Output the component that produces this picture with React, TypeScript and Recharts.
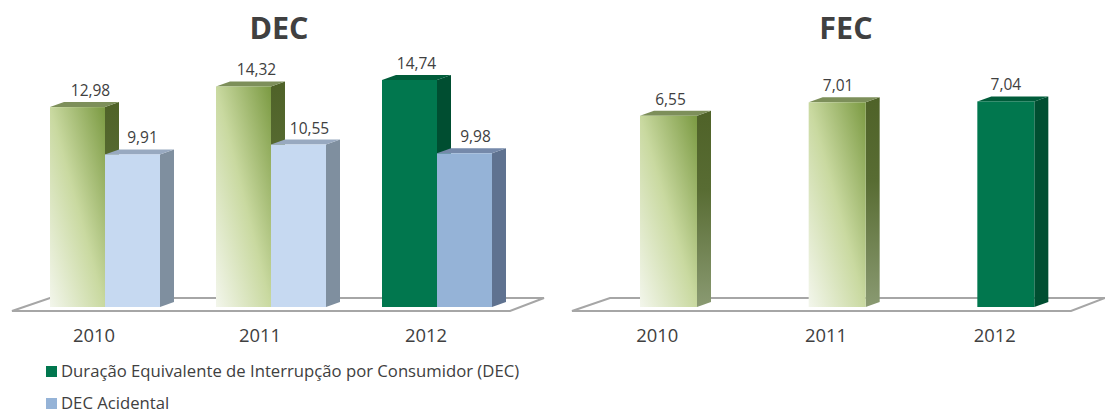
import * as React from "react"
import { BarChart, Bar, XAxis, YAxis, LabelList } from "recharts"

const YEARS = ["2010", "2011", "2012"]
const DEC_VALUES = [12.98, 14.32, 14.74]
const DEC_ACIDENTAL = [9.91, 10.55, 9.98]
const FEC_VALUES = [6.55, 7.01, 7.04]
const LEGEND_NAMES = ["Duração Equivalente de Interrupção por Consumidor (DEC)", "DEC Acidental"]

const FONT = "'Open Sans', sans-serif"
const TEXT = "#404040"
const DEPTH_X = 14
const DEPTH_Y = 5

const decData = YEARS.map((year, i) => ({ year, dec: DEC_VALUES[i], acidental: DEC_ACIDENTAL[i] }))
const fecData = YEARS.map((year, i) => ({ year, fec: FEC_VALUES[i] }))

// faces of the 3d columns, the last year is highlighted
const GREEN = { front: "url(#greenFront)", side: "url(#greenSide)", top: "#7d8f5a" }
const DARK_GREEN = { front: "#01774e", side: "#004e31", top: "#005c3a" }
const LIGHT_BLUE = { front: "#c6d9f1", side: "#7f8f9f", top: "#98a9c0" }
const BLUE = { front: "#95b3d7", side: "#5f7290", top: "#7589aa" }

const column = (faces: any[]) => (props: any) => {
    const { x, y, width, height, index } = props
    const c = faces[index]
    const right = x + width
    const bottom = y + height
    return (
        <g>
            <polygon points={`${right},${y} ${right + DEPTH_X},${y - DEPTH_Y} ${right + DEPTH_X},${bottom - DEPTH_Y} ${right},${bottom}`} fill={c.side} />
            <polygon points={`${x},${y} ${x + DEPTH_X},${y - DEPTH_Y} ${right + DEPTH_X},${y - DEPTH_Y} ${right},${y}`} fill={c.top} />
            <rect x={x} y={y} width={width} height={height} fill={c.front} />
        </g>
    )
}

// the labels are not quite centred over the columns in the original
const valueLabel = (shifts: number[]) => (props: any) => {
    const { x, y, width, value, index } = props
    return (
        <text x={x + width / 2 + shifts[index]} y={y - 11} textAnchor="middle" fontFamily={FONT} fontSize={15.5} fill={TEXT}>
            {Number(value).toFixed(2).replace(".", ",")}
        </text>
    )
}

const YearTick = (props: any) => {
    const { x, payload } = props
    return (
        <text x={x - 11} y={342} textAnchor="middle" fontFamily={FONT} fontSize={18.4} fill={TEXT}>
            {payload.value}
        </text>
    )
}

const Floor = ({ x1, x2 }: { x1: number; x2: number }) => (
    <polygon
        points={`${x1},311 ${x2 - 34},311 ${x2},298 ${x1 + 38},298`}
        fill="#fff"
        stroke="#a6a6a6"
        strokeWidth={2}
    />
)

const Title = ({ x, children }: { x: number; children: string }) => (
    <text x={x} y={39} textAnchor="middle" fontFamily={FONT} fontWeight="bold" fontSize={30.5} fill={TEXT}>
        {children}
    </text>
)

const Gradients = () => (
    <defs>
        <linearGradient id="greenFront" x1="0" y1="1" x2="1" y2="0">
            <stop offset="0%" stopColor="#f3f6ec" />
            <stop offset="50%" stopColor="#c9d9a0" />
            <stop offset="100%" stopColor="#7b9a42" />
        </linearGradient>
        <linearGradient id="greenSide" x1="0" y1="0" x2="0" y2="1">
            <stop offset="0%" stopColor="#4f6228" />
            <stop offset="40%" stopColor="#586c33" />
            <stop offset="100%" stopColor="#8a9a72" />
        </linearGradient>
    </defs>
)

export default function App() {
    return (
        <div style={{ position: "absolute", left: 0, top: 0, width: 1105, height: 410, background: "#fff" }}>
            <div style={{ position: "absolute", left: 0, top: 0 }}>
                <BarChart
                    width={552}
                    height={410}
                    data={decData}
                    margin={{ top: 60.6, left: 22, right: 32, bottom: 43 }}
                    barCategoryGap={28}
                    barGap={0}
                    barSize={55}
                >
                    <Gradients />
                    <Floor x1={12} x2={544} />
                    <Title x={279}>DEC</Title>
                    <XAxis dataKey="year" height={60} axisLine={false} tickLine={false} tick={<YearTick />} interval={0} />
                    <YAxis hide domain={[0, 16]} />
                    <Bar dataKey="dec" isAnimationActive={false} shape={column([GREEN, GREEN, DARK_GREEN])}>
                        <LabelList dataKey="dec" content={valueLabel([13, 13, 7])} />
                    </Bar>
                    <Bar dataKey="acidental" isAnimationActive={false} shape={column([LIGHT_BLUE, LIGHT_BLUE, BLUE])}>
                        <LabelList dataKey="acidental" content={valueLabel([10, 11, 11])} />
                    </Bar>
                </BarChart>
            </div>
            <div style={{ position: "absolute", left: 552, top: 0 }}>
                <BarChart
                    width={553}
                    height={410}
                    data={fecData}
                    margin={{ top: 73.4, left: 32, right: 15, bottom: 43 }}
                    barSize={57}
                >
                    <Gradients />
                    <Floor x1={20} x2={553} />
                    <Title x={294}>FEC</Title>
                    <XAxis dataKey="year" height={60} axisLine={false} tickLine={false} tick={<YearTick />} interval={0} />
                    <YAxis hide domain={[0, 8]} />
                    <Bar dataKey="fec" isAnimationActive={false} shape={column([GREEN, GREEN, DARK_GREEN])}>
                        <LabelList dataKey="fec" content={valueLabel([2, 1, 0])} />
                    </Bar>
                </BarChart>
            </div>
            {LEGEND_NAMES.map((name, i) => (
                <div key={name} style={{ position: "absolute", left: 46, top: 364 + i * 32, height: 14, lineHeight: "14px", display: "flex", alignItems: "center", fontFamily: FONT, fontSize: 16.7, color: TEXT, whiteSpace: "nowrap" }}>
                    <span style={{ width: 11, height: 11, marginRight: 4, background: i === 0 ? "#01774e" : "#95b3d7" }} />
                    {name}
                </div>
            ))}
        </div>
    )
}
